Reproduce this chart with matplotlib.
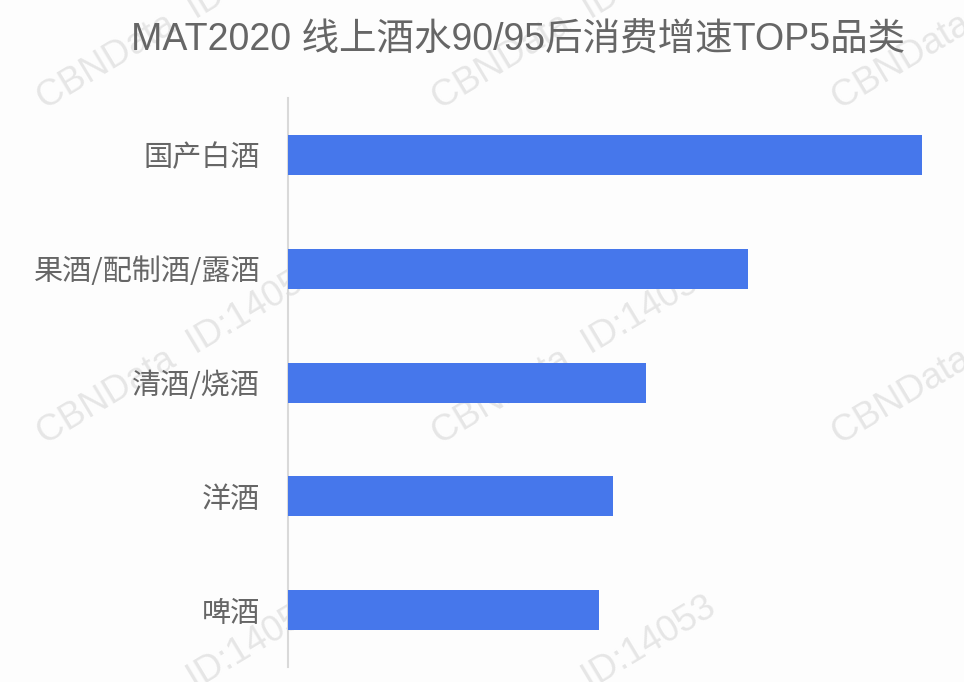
import matplotlib
matplotlib.use('Agg')
import matplotlib.pyplot as plt

plt.rcParams['font.family'] = ['Noto Sans CJK SC', 'DejaVu Sans']

# Data (relative growth)
categories = ['国产白酒', '果酒/配制酒/露酒', '清酒/烧酒', '洋酒', '啤酒']
growth = [634, 460, 358, 325, 311]

title = 'MAT2020 线上酒水90/95后消费增速TOP5品类'

fig = plt.figure(figsize=(9.64, 6.82), dpi=100)
fig.patch.set_facecolor('#fdfdfd')

# Watermarks (behind the axes)
for row_y in [0.8385, 0.3475, -0.1435]:
    for col_x in [0.047, 0.456, 0.871]:
        fig.text(col_x, row_y, 'CBNData  ID:14053', fontsize=26.5, color='#e6e6e6',
                 rotation=31, rotation_mode='anchor', ha='left', va='baseline',
                 family='Liberation Sans', zorder=-1)

ax = fig.add_axes([0.2988, 0.022, 0.9564 - 0.2988, 0.856 - 0.022])
ax.set_facecolor('none')
ax.barh(range(len(categories)), growth, height=0.35, color='#4677eb', zorder=3)
ax.set_xlim(0, max(growth))
ax.set_ylim(len(categories) - 0.5, -0.5)

ax.set_yticks(range(len(categories)))
ax.set_yticklabels(categories, fontsize=21, color='#666666')
ax.tick_params(axis='y', length=0, pad=20)
ax.set_xticks([])

for s in ['top', 'right', 'bottom']:
    ax.spines[s].set_visible(False)
ax.spines['left'].set_color('#d9d9d9')
ax.spines['left'].set_linewidth(1.5)

fig.text(0.537, 0.941, title, fontsize=27, color='#666666', ha='center', va='center',
         family=['Liberation Sans', 'Noto Sans CJK SC'])

fig.savefig('out.png', dpi=100, facecolor=fig.get_facecolor())
